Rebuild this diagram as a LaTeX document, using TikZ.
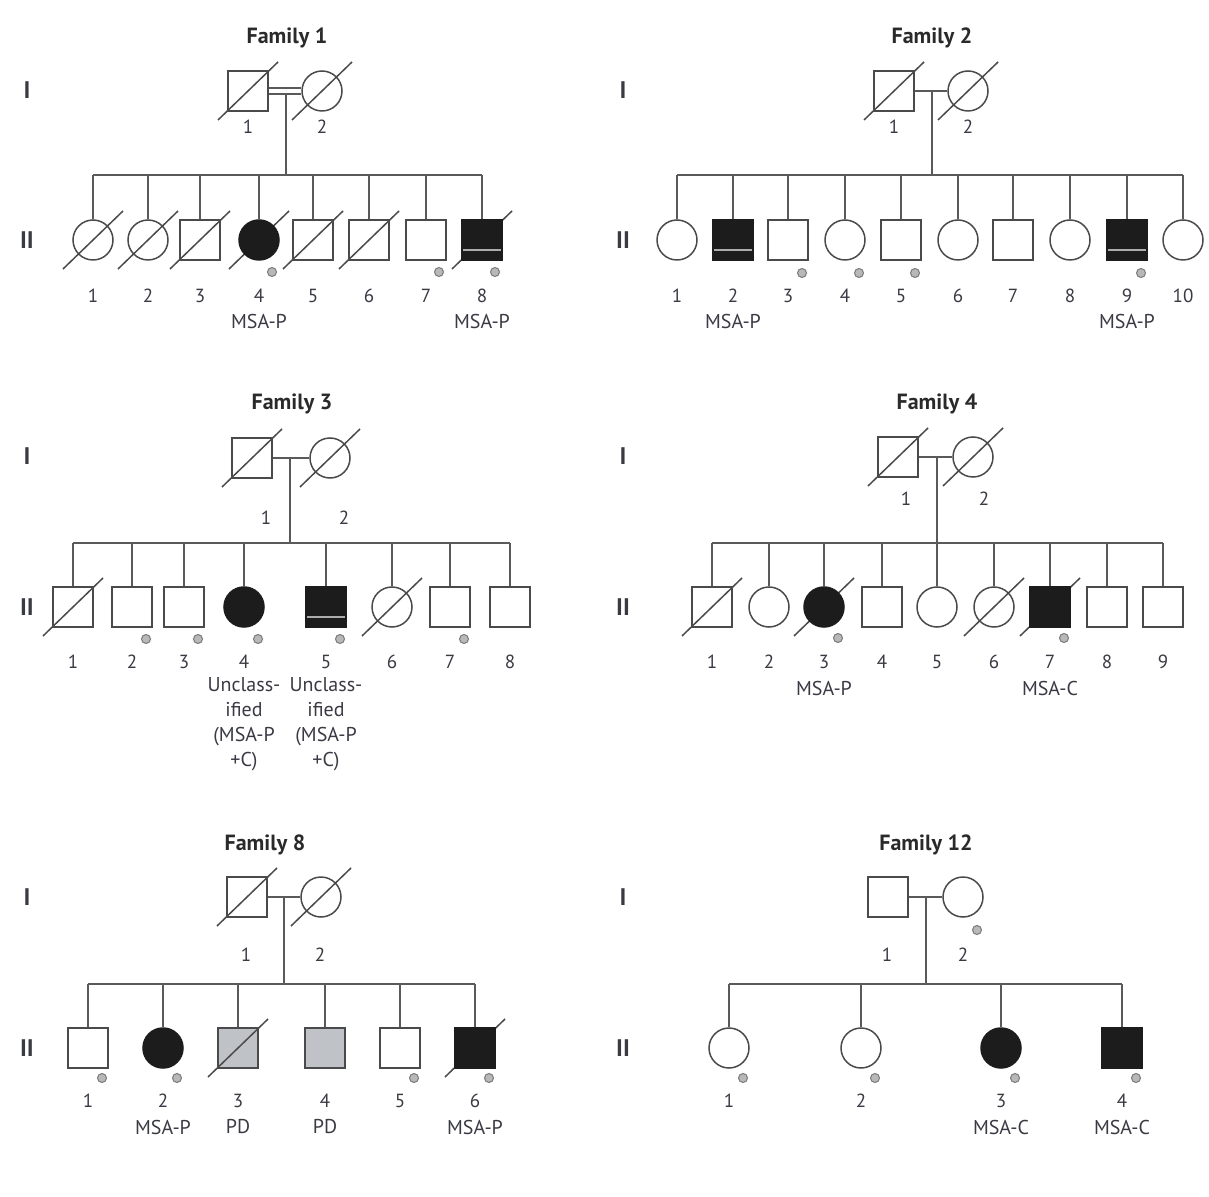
\documentclass[tikz,border=0pt]{standalone}
\usepackage{fontspec}
\setmainfont{PT Sans}
\pgfdeclarelayer{bg}
\pgfsetlayers{bg,main}
\definecolor{linegray}{HTML}{5A5A5A}
\definecolor{shapegray}{HTML}{4A4A4A}
\definecolor{affblack}{HTML}{1C1C1C}
\definecolor{pdgray}{HTML}{BFC3C7}
\definecolor{markgray}{HTML}{7A7A7A}
\definecolor{markfill}{HTML}{B8B8B8}
\definecolor{txt}{HTML}{3A3A44}
\definecolor{titlecol}{HTML}{2A2A2A}
\tikzset{
  conn/.style={draw=linegray, line width=0.75pt},
  male/.style={draw=shapegray, line width=0.75pt, rectangle, minimum size=20pt, inner sep=0pt},
  female/.style={draw=shapegray, line width=0.75pt, circle, minimum size=20pt, inner sep=0pt},
  maff/.style={male, fill=affblack, draw=affblack},
  faff/.style={female, fill=affblack, draw=affblack},
  mpd/.style={male, fill=pdgray},
  slash/.style={draw=shapegray, line width=0.75pt},
  innerline/.style={draw=gray!65, line width=0.6pt},
  marker/.style={circle, draw=markgray, fill=markfill, minimum size=4.5pt, inner sep=0pt, line width=0.5pt},
  num/.style={font=\fontsize{9.5}{11}\selectfont, text=txt, inner sep=0pt},
  lab/.style={font=\fontsize{10}{12.5}\selectfont, text=txt, inner sep=0pt, align=center},
  ttl/.style={font=\bfseries\fontsize{11}{13}\selectfont, text=titlecol, inner sep=0pt},
  gen/.style={font=\bfseries\fontsize{12}{14}\selectfont, text=txt, inner sep=0pt},
}
\newcommand{\deadslash}[1]{\draw[slash] ([shift={(-30,29)}]#1.center) -- ([shift={(30,-29)}]#1.center);}
\begin{document}
\begin{tikzpicture}[x=0.5pt, y=-0.5pt]
\useasboundingbox (0,0) rectangle (1209,1197);
\begin{pgfonlayer}{bg}
\fill[white] (0,0) rectangle (1209,1197);
\end{pgfonlayer}

% ================= Family 1 =================
\node[ttl] (t1) at (287,38) {Family 1};
\node[gen] (g1a) at (27,90) {I};
\node[gen] (g1b) at (27,240) {II};
\node[male] (f1p1) at (248,91) {};
\node[female] (f1p2) at (322,91) {};
\node[num] (f1n1) at (248,127) {1};
\node[num] (f1n2) at (322,127) {2};
\draw[conn] ([yshift=1.5pt]f1p1.east) -- ([yshift=1.5pt]f1p2.west);
\draw[conn] ([yshift=-1.5pt]f1p1.east) -- ([yshift=-1.5pt]f1p2.west);
\coordinate (f1m) at (286,94);
\coordinate (f1s) at (286,175);
\coordinate (f1L) at (93,175);
\coordinate (f1R) at (482,175);
\draw[conn] (f1m) -- (f1s);
\draw[conn] (f1L) -- (f1R);
\foreach \i/\x/\st in {1/93/female,2/148/female,3/200/male,4/259/faff,5/313/male,6/369/male,7/426/male,8/482/maff}{
  \node[\st] (f1c\i) at (\x,240) {};
  \node[num] (f1d\i) at (\x,296) {\i};
  \draw[conn] (f1c\i.north |- f1L) -- (f1c\i.north);
}
\draw[innerline] ([shift={(-19,10)}]f1c8.center) -- ([shift={(19,10)}]f1c8.center);
\foreach \i in {4,7,8}{\node[marker] (f1k\i) at ([shift={(13,32)}]f1c\i.center) {};}
\node[lab] (f1l4) at (259,322) {MSA-P};
\node[lab] (f1l8) at (482,322) {MSA-P};
\begin{pgfonlayer}{bg}
\foreach \n in {f1p1,f1p2,f1c1,f1c2,f1c3,f1c4,f1c5,f1c6,f1c8}{\deadslash{\n}}
\end{pgfonlayer}

% ================= Family 2 =================
\node[ttl] (t2) at (932,38) {Family 2};
\node[gen] (g2a) at (623,90) {I};
\node[gen] (g2b) at (623,240) {II};
\node[male] (f2p1) at (894,91) {};
\node[female] (f2p2) at (968,91) {};
\node[num] (f2n1) at (894,127) {1};
\node[num] (f2n2) at (968,127) {2};
\draw[conn] (f2p1.east) -- (f2p2.west);
\coordinate (f2m) at (932,91);
\coordinate (f2s) at (932,175);
\coordinate (f2L) at (677,175);
\coordinate (f2R) at (1183,175);
\draw[conn] (f2m) -- (f2s);
\draw[conn] (f2L) -- (f2R);
\foreach \i/\x/\st in {1/677/female,2/733/maff,3/788/male,4/845/female,5/901/male,6/958/female,7/1013/male,8/1070/female,9/1127/maff,10/1183/female}{
  \node[\st] (f2c\i) at (\x,240) {};
  \node[num] (f2d\i) at (\x,296) {\i};
  \draw[conn] (f2c\i.north |- f2L) -- (f2c\i.north);
}
\draw[innerline] ([shift={(-19,10)}]f2c2.center) -- ([shift={(19,10)}]f2c2.center);
\draw[innerline] ([shift={(-19,10)}]f2c9.center) -- ([shift={(19,10)}]f2c9.center);
\foreach \i in {3,4,5,9}{\node[marker] (f2k\i) at ([shift={(14,33)}]f2c\i.center) {};}
\node[lab] (f2l2) at (733,322) {MSA-P};
\node[lab] (f2l9) at (1127,322) {MSA-P};
\begin{pgfonlayer}{bg}
\foreach \n in {f2p1,f2p2}{\deadslash{\n}}
\end{pgfonlayer}

% ================= Family 3 =================
\node[ttl] (t3) at (292,404) {Family 3};
\node[gen] (g3a) at (27,456) {I};
\node[gen] (g3b) at (27,607) {II};
\node[male] (f3p1) at (252,458) {};
\node[female] (f3p2) at (330,458) {};
\node[num] (f3n1) at (266,518) {1};
\node[num] (f3n2) at (344,518) {2};
\draw[conn] (f3p1.east) -- (f3p2.west);
\coordinate (f3m) at (290,458);
\coordinate (f3s) at (290,543);
\coordinate (f3L) at (73,543);
\coordinate (f3R) at (510,543);
\draw[conn] (f3m) -- (f3s);
\draw[conn] (f3L) -- (f3R);
\foreach \i/\x/\st in {1/73/male,2/132/male,3/184/male,4/244/faff,5/326/maff,6/392/female,7/450/male,8/510/male}{
  \node[\st] (f3c\i) at (\x,607) {};
  \node[num] (f3d\i) at (\x,662) {\i};
  \draw[conn] (f3c\i.north |- f3L) -- (f3c\i.north);
}
\draw[innerline] ([shift={(-19,10)}]f3c5.center) -- ([shift={(19,10)}]f3c5.center);
\foreach \i in {2,3,4,5,7}{\node[marker] (f3k\i) at ([shift={(14,32)}]f3c\i.center) {};}
\node[lab, anchor=north] (f3l4) at (244,677) {Unclass-\\ified\\(MSA-P\\+C)};
\node[lab, anchor=north] (f3l5) at (326,677) {Unclass-\\ified\\(MSA-P\\+C)};
\begin{pgfonlayer}{bg}
\foreach \n in {f3p1,f3p2,f3c1,f3c6}{\deadslash{\n}}
\end{pgfonlayer}

% ================= Family 4 =================
\node[ttl] (t4) at (937,404) {Family 4};
\node[gen] (g4a) at (623,456) {I};
\node[gen] (g4b) at (623,607) {II};
\node[male] (f4p1) at (898,457) {};
\node[female] (f4p2) at (973,457) {};
\node[num] (f4n1) at (906,499) {1};
\node[num] (f4n2) at (984,499) {2};
\draw[conn] (f4p1.east) -- (f4p2.west);
\coordinate (f4m) at (937,457);
\coordinate (f4s) at (937,543);
\coordinate (f4L) at (712,543);
\coordinate (f4R) at (1163,543);
\draw[conn] (f4m) -- (f4s);
\draw[conn] (f4L) -- (f4R);
\foreach \i/\x/\st in {1/712/male,2/769/female,3/824/faff,4/882/male,5/937/female,6/994/female,7/1050/maff,8/1107/male,9/1163/male}{
  \node[\st] (f4c\i) at (\x,607) {};
  \node[num] (f4d\i) at (\x,662) {\i};
  \draw[conn] (f4c\i.north |- f4L) -- (f4c\i.north);
}
\foreach \i in {3,7}{\node[marker] (f4k\i) at ([shift={(14,31)}]f4c\i.center) {};}
\node[lab] (f4l3) at (824,688) {MSA-P};
\node[lab] (f4l7) at (1050,688) {MSA-C};
\begin{pgfonlayer}{bg}
\foreach \n in {f4p1,f4p2,f4c1,f4c3,f4c6,f4c7}{\deadslash{\n}}
\end{pgfonlayer}

% ================= Family 8 =================
\node[ttl] (t8) at (265,845) {Family 8};
\node[gen] (g8a) at (27,897) {I};
\node[gen] (g8b) at (27,1048) {II};
\node[male] (f8p1) at (247,897) {};
\node[female] (f8p2) at (321,897) {};
\node[num] (f8n1) at (246,955) {1};
\node[num] (f8n2) at (320,955) {2};
\draw[conn] (f8p1.east) -- (f8p2.west);
\coordinate (f8m) at (284,897);
\coordinate (f8s) at (284,984);
\coordinate (f8L) at (88,984);
\coordinate (f8R) at (475,984);
\draw[conn] (f8m) -- (f8s);
\draw[conn] (f8L) -- (f8R);
\foreach \i/\x/\st in {1/88/male,2/163/faff,3/238/mpd,4/325/mpd,5/400/male,6/475/maff}{
  \node[\st] (f8c\i) at (\x,1048) {};
  \node[num] (f8d\i) at (\x,1101) {\i};
  \draw[conn] (f8c\i.north |- f8L) -- (f8c\i.north);
}
\foreach \i in {1,2,5,6}{\node[marker] (f8k\i) at ([shift={(14,30)}]f8c\i.center) {};}
\node[lab] (f8l2) at (163,1127) {MSA-P};
\node[lab] (f8l3) at (238,1127) {PD};
\node[lab] (f8l4) at (325,1127) {PD};
\node[lab] (f8l6) at (475,1127) {MSA-P};
\deadslash{f8c3}
\begin{pgfonlayer}{bg}
\foreach \n in {f8p1,f8p2,f8c6}{\deadslash{\n}}
\end{pgfonlayer}

% ================= Family 12 =================
\node[ttl] (t12) at (926,845) {Family 12};
\node[gen] (g12a) at (623,897) {I};
\node[gen] (g12b) at (623,1048) {II};
\node[male] (f12p1) at (888,897) {};
\node[female] (f12p2) at (963,897) {};
\node[marker] (f12kp2) at ([shift={(14,33)}]f12p2.center) {};
\node[num] (f12n1) at (887,955) {1};
\node[num] (f12n2) at (963,955) {2};
\draw[conn] (f12p1.east) -- (f12p2.west);
\coordinate (f12m) at (926,897);
\coordinate (f12s) at (926,984);
\coordinate (f12L) at (729,984);
\coordinate (f12R) at (1122,984);
\draw[conn] (f12m) -- (f12s);
\draw[conn] (f12L) -- (f12R);
\foreach \i/\x/\st in {1/729/female,2/861/female,3/1001/faff,4/1122/maff}{
  \node[\st] (f12c\i) at (\x,1048) {};
  \node[num] (f12d\i) at (\x,1101) {\i};
  \draw[conn] (f12c\i.north |- f12L) -- (f12c\i.north);
}
\foreach \i in {1,2,3,4}{\node[marker] (f12k\i) at ([shift={(14,30)}]f12c\i.center) {};}
\node[lab] (f12l3) at (1001,1127) {MSA-C};
\node[lab] (f12l4) at (1122,1127) {MSA-C};
\end{tikzpicture}
\end{document}
